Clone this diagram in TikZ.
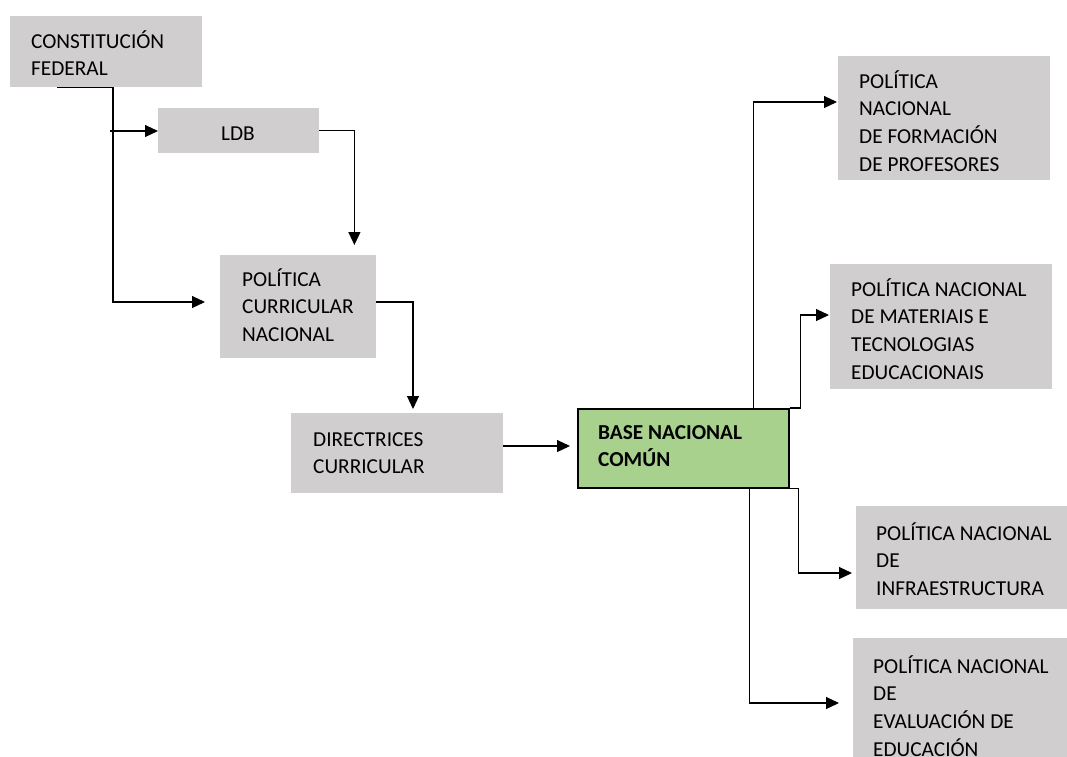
\documentclass[tikz,border=0pt]{standalone}
\usepackage{fontspec}
\setmainfont{Carlito}
\usetikzlibrary{arrows.meta}
\definecolor{boxgray}{RGB}{208,206,206}
\definecolor{boxgreen}{RGB}{169,209,142}
\begin{document}
\begin{tikzpicture}[x=1pt,y=-1pt,
  gbox/.style={fill=boxgray,draw=none,inner sep=0pt,anchor=north west},
  greenbox/.style={fill=boxgreen,draw=black,line width=1.5pt,inner sep=0pt,anchor=north west},
  txt/.style={anchor=base west,inner sep=0pt,align=left,font=\fontsize{21.3pt}{27.7pt}\selectfont},
  conn/.style={draw=black,line width=1.1pt,-{Triangle[length=13pt,width=12pt]}}]
\useasboundingbox (0,0) rectangle (1067,756);
% boxes
\node[gbox,minimum width=192pt,minimum height=71pt] (cf) at (10,16) {};
\node[gbox,minimum width=161pt,minimum height=45pt] (ldb) at (158,108) {};
\node[gbox,minimum width=156pt,minimum height=103pt] (pc) at (220,255) {};
\node[gbox,minimum width=212pt,minimum height=80pt] (dc) at (291,413) {};
\node[greenbox,minimum width=211pt,minimum height=79pt] (base) at (577,408) {};
\node[gbox,minimum width=212pt,minimum height=124pt] (pnfp) at (838,56) {};
\node[gbox,minimum width=222pt,minimum height=125pt] (pnmt) at (830,264) {};
\node[gbox,minimum width=211pt,minimum height=103pt] (pni) at (856,506) {};
\node[gbox,minimum width=214pt,minimum height=140pt] (pne) at (853,638) {};
% texts (anchor = baseline of the last line)
\node[txt] (tcf) at (31,75.7) {CONSTITUCIÓN\\FEDERAL};
\node[txt] (tldb) at (221,140) {LDB};
\node[txt] (tpc) at (242,341.4) {POLÍTICA\\CURRICULAR\\NACIONAL};
\node[txt] (tdc) at (313,473.7) {DIRECTRICES\\CURRICULAR};
\node[txt,font=\fontsize{21.3pt}{27.7pt}\selectfont\bfseries] (tbase) at (598,466.7) {BASE NACIONAL\\COMÚN};
\node[txt] (tpnfp) at (859,171.1) {POLÍTICA\\NACIONAL\\DE FORMACIÓN\\DE PROFESORES};
\node[txt] (tpnmt) at (851,379.1) {POLÍTICA NACIONAL\\DE MATERIAIS E\\TECNOLOGIAS\\EDUCACIONAIS};
\node[txt] (tpni) at (876,595.4) {POLÍTICA NACIONAL\\DE\\INFRAESTRUCTURA};
\node[txt] (tpne) at (873,756.1) {POLÍTICA NACIONAL\\DE\\EVALUACIÓN DE\\EDUCACIÓN};
% bend points
\coordinate (a1) at (113,302);
\coordinate (a0) at (110,131);
% connectors
\draw[conn,shorten >=15pt] ([xshift=47pt]cf.south west) -| (a1) -- (a1 -| pc.west);
\draw[conn] (a0) -- (a0 -| ldb.west);
\draw[conn,shorten >=10pt] (ldb.east) -| ([xshift=35pt]ldb.east |- pc.north);
\draw[conn,shorten >=4pt] ([yshift=-47pt]pc.north east) -| ([xshift=122pt]dc.north west);
\draw[conn,shorten >=7pt] ([yshift=-33pt]dc.north east) -- ([yshift=-33pt]dc.north east -| base.west);
\draw[conn,shorten >=1pt] ([xshift=-36pt]base.north east) |- ([yshift=-46pt]pnfp.north west);
\draw[conn,shorten >=1pt] (base.north east) -- ++(11,0) |- ([yshift=-51pt]pnmt.north west);
\draw[conn,shorten >=4pt] (base.south east) -- ++(9,0) |- ([yshift=-67pt]pni.north west);
\draw[conn,shorten >=14pt] ([xshift=-40pt]base.south east) |- ([yshift=-65pt]pne.north west);
\end{tikzpicture}
\end{document}
